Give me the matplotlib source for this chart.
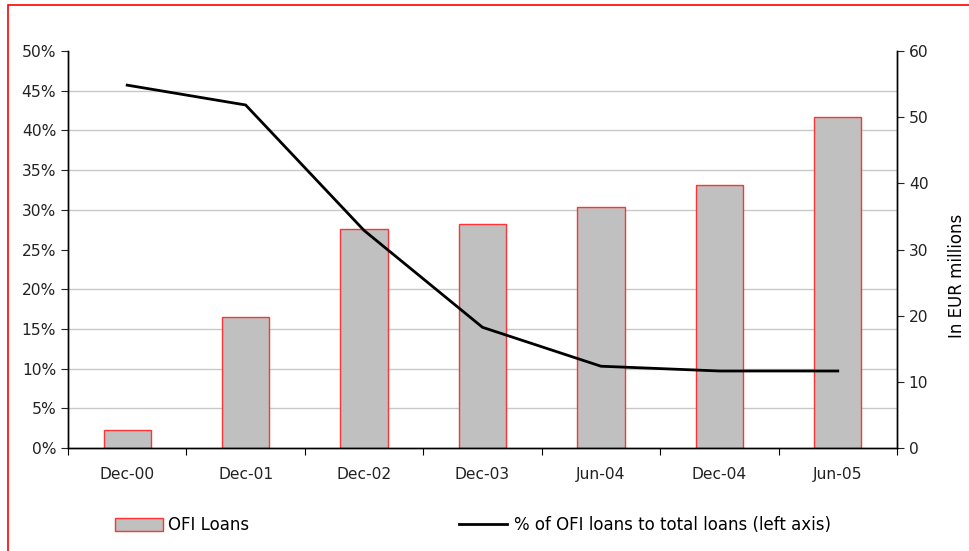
import numpy as np
import matplotlib
matplotlib.use("Agg")
import matplotlib.pyplot as plt
from matplotlib.ticker import MultipleLocator, FuncFormatter
from matplotlib.patches import Rectangle
from matplotlib.lines import Line2D
from matplotlib.patches import Patch

# data
periods = ["Dec-00", "Dec-01", "Dec-02", "Dec-03", "Jun-04", "Dec-04", "Jun-05"]
ofi_loans = [2.7, 19.8, 33.1, 33.8, 36.4, 39.7, 50.0]          # EUR millions (right axis)
ofi_share = [45.7, 43.2, 27.4, 15.2, 10.3, 9.7, 9.7]          # % of total loans (left axis)

plt.rcParams["font.family"] = ["DejaVu Sans"]
plt.rcParams["font.size"] = 11

fig = plt.figure(figsize=(9.7, 5.51), dpi=100)
fig.patch.set_facecolor("white")
# red frame (right and bottom edges run off the picture)
fig.patches.append(Rectangle((8 / 970, -0.05), 1.2, 1 - 5 / 551 + 0.05,
                             transform=fig.transFigure, fill=False,
                             edgecolor="#ff0000", linewidth=1.2))

ax = fig.add_axes([68 / 970, 1 - 448 / 551, (897 - 68) / 970, (448 - 51) / 551])
ax2 = ax.twinx()

x = np.arange(len(periods))

# bars on the right axis, behind the line
ax2.bar(x, ofi_loans, width=0.4, color="#c0c0c0", edgecolor="#ff3333", linewidth=1, zorder=2)
ax2.set_ylim(0, 60)
ax2.yaxis.set_major_locator(MultipleLocator(10))
ax2.yaxis.set_minor_locator(MultipleLocator(6))
ax2.grid(which="minor", axis="y", color="#c8c8c8", linewidth=1, zorder=0)
ax2.set_axisbelow(True)
ax2.tick_params(axis="y", which="minor", length=0)
ax2.tick_params(axis="y", which="major", direction="out", length=5, colors="#222222", labelsize=11.2)
ax2.set_ylabel("In EUR millions", fontsize=12)
ax2.yaxis.set_label_coords(1.062, 0.433)

# line on the left axis, drawn on top
ax.set_zorder(ax2.get_zorder() + 1)
ax.patch.set_visible(False)
ax.plot(x, ofi_share, color="black", linewidth=2, solid_joinstyle="miter")
ax.set_ylim(0, 50)
ax.yaxis.set_major_locator(MultipleLocator(5))
ax.yaxis.set_major_formatter(FuncFormatter(lambda v, p: f"{v:.0f}%"))
ax.tick_params(axis="y", direction="out", length=5, colors="#222222", labelsize=11.2)

ax.set_xlim(-0.5, len(periods) - 0.5)
ax.set_xticks(np.arange(-0.5, len(periods), 1.0))
ax.set_xticklabels([])
ax.set_xticks(x, minor=True)
ax.set_xticklabels(periods, minor=True)
ax.tick_params(axis="x", which="major", direction="out", length=5)
ax.tick_params(axis="x", which="minor", length=0, pad=14, labelsize=11.2, colors="#222222")

for a in (ax, ax2):
    a.spines["top"].set_visible(False)
    for s in ("left", "right", "bottom"):
        a.spines[s].set_color("black")
        a.spines[s].set_linewidth(1)

# legend entries sit far apart at the bottom
fs = 12
h1 = Patch(facecolor="#c0c0c0", edgecolor="#ff3333", linewidth=1)
h2 = Line2D([0], [0], color="black", linewidth=2)
fig.legend([h1], ["OFI Loans"], loc="center left", bbox_to_anchor=(107 / 970, 1 - 525 / 551),
           frameon=False, borderpad=0, handlelength=2.85, handleheight=0.8, handletextpad=0.3,
           fontsize=fs)
fig.legend([h2], ["% of OFI loans to total loans (left axis)"], loc="center left",
           bbox_to_anchor=(451 / 970, 1 - 525 / 551), frameon=False, borderpad=0,
           handlelength=2.85, handletextpad=0.45, fontsize=fs)

fig.savefig("out.png", dpi=100, facecolor="white")
